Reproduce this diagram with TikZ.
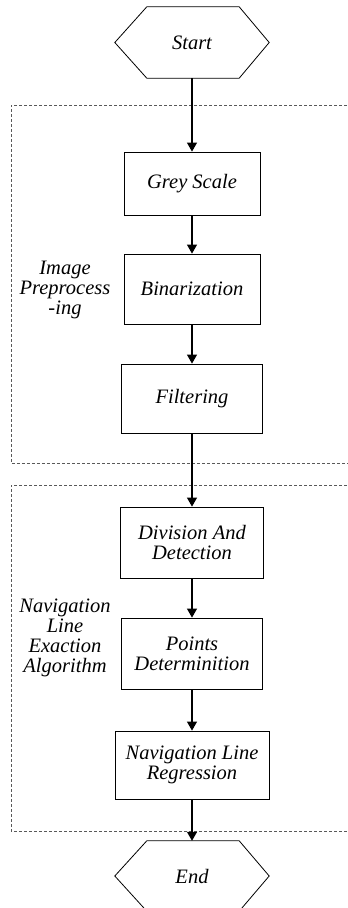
\documentclass[tikz,border=0pt]{standalone}
\usepackage{fontspec}
\newfontfamily\tnr{Liberation Serif}
\usetikzlibrary{arrows.meta}
\begin{document}
\begin{tikzpicture}[x=1pt,y=-1pt,
  lbl/.style={font=\tnr\fontsize{20.5}{20}\selectfont\itshape, align=center, inner sep=0pt},
  stepbox/.style={draw=black, line width=0.8pt, lbl, minimum width=#1},
  hexnode/.style={lbl, minimum width=154, minimum height=71},
  group/.style={draw=black!65, line width=0.8pt, dash pattern=on 3pt off 2pt},
  conn/.style={line width=1.1pt, -{Triangle[width=10pt,length=9pt]}},
  hexline/.style={line width=0.8pt}]
\useasboundingbox (0,0) rectangle (348,908);
\clip (0,0) rectangle (348,908);
\fill[white] (0,0) rectangle (348,908);
% groups
\draw[group] (352,105) -- (11,105) -- (11,463) -- (352,463);
\draw[group] (352,485) -- (11,485) -- (11,831) -- (352,831);
% start / end
\node[hexnode] (start) at (192,42.5) {Start};
\draw[hexline] (start.west) -- ([xshift=32]start.north west) -- ([xshift=-30]start.north east) -- (start.east) -- ([xshift=-30]start.south east) -- ([xshift=32]start.south west) -- cycle;
\node[hexnode, minimum height=70] (end) at (192,876) {End};
\draw[hexline] (end.west) -- ([xshift=32]end.north west) -- ([xshift=-30]end.north east) -- (end.east) -- ([xshift=-30]end.south east) -- ([xshift=32]end.south west) -- cycle;
% steps
\node[stepbox=136, minimum height=63] (gs) at (192,183.5) {Grey Scale};
\node[stepbox=136, minimum height=70] (bin) at (192,289) {Binarization};
\node[stepbox=141, minimum height=69] (fil) at (192,398.5) {Filtering};
\node[stepbox=143, minimum height=71] (div) at (192,542.5) {Division And\\Detection};
\node[stepbox=141, minimum height=71] (pts) at (192,653.5) {Points\\Determinition};
\node[stepbox=154, minimum height=68] (reg) at (192,765) {Navigation Line\\Regression};
% group labels
\node[lbl] (l1) at (65,290) {Image\\Preprocess\\-ing};
\node[lbl] (l2) at (65,638) {Navigation\\Line\\Exaction\\Algorithm};
% connectors
\draw[conn] (start.south) -- (gs.north);
\draw[conn] (gs.south) -- (bin.north);
\draw[conn] (bin.south) -- (fil.north);
\draw[conn] (fil.south) -- (div.north);
\draw[conn] (div.south) -- (pts.north);
\draw[conn] (pts.south) -- (reg.north);
\draw[conn] (reg.south) -- (end.north);
\end{tikzpicture}
\end{document}
